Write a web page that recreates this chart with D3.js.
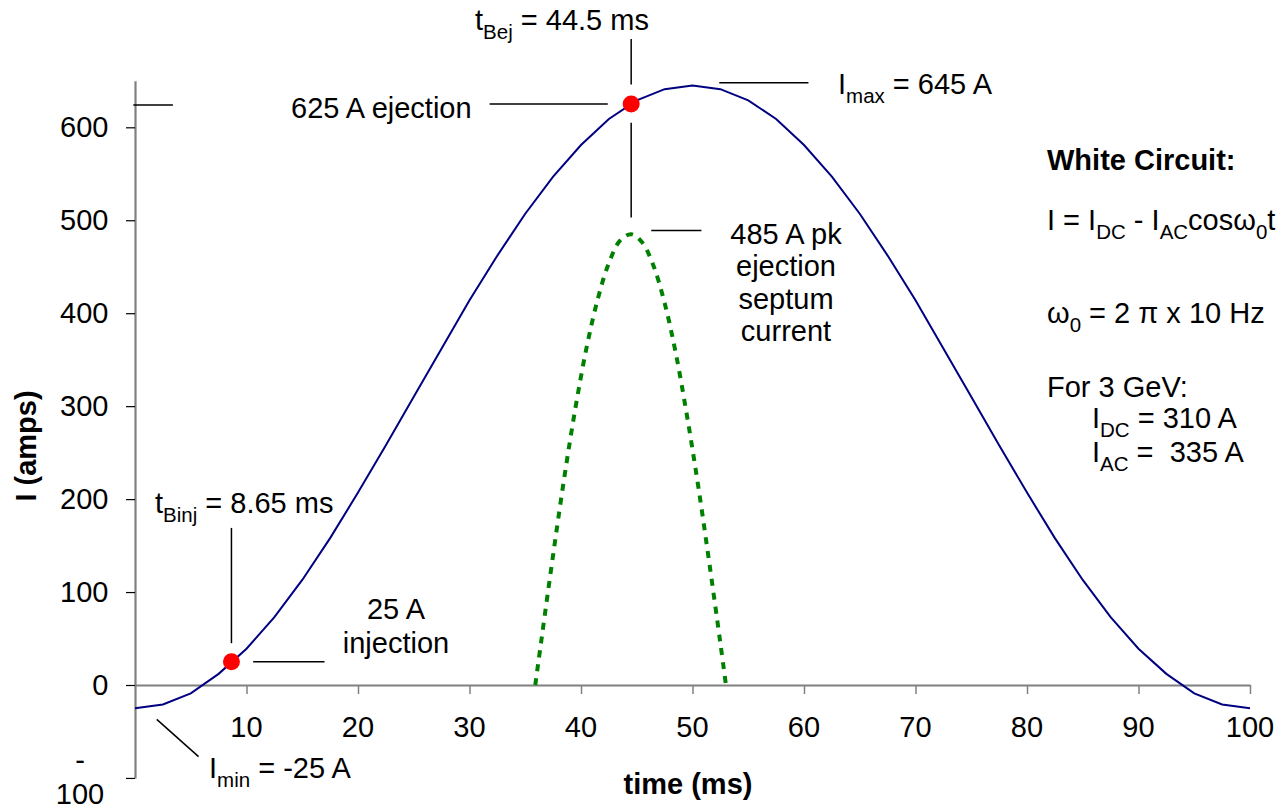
<!DOCTYPE html>
<html>
<head>
<meta charset="utf-8">
<script src="https://cdn.jsdelivr.net/npm/d3@7"></script>
<style>
  html, body { margin: 0; padding: 0; background: #fff; }
  svg { display: block; }
  text { font-family: "Liberation Sans", Arial, Helvetica, sans-serif; fill: #000; white-space: pre; }
</style>
</head>
<body>
<svg id="chart" width="1280" height="809"></svg>
<script>
// ---------- data ----------
const timeMs = [0, 2.5, 5, 7.5, 10, 12.5, 15, 17.5, 20, 22.5, 25, 27.5, 30, 32.5, 35, 37.5, 40, 42.5, 45, 47.5, 50,
                52.5, 55, 57.5, 60, 62.5, 65, 67.5, 70, 72.5, 75, 77.5, 80, 82.5, 85, 87.5, 90, 92.5, 95, 97.5, 100];
const currentA = [-25, -21, -9, 12, 39, 73, 113, 158, 207, 258, 310, 362, 414, 462, 507, 547, 581, 609, 629, 641, 645,
                  641, 629, 609, 581, 547, 507, 462, 414, 362, 310, 258, 207, 158, 113, 73, 39, 12, -9, -21, -25];

const septumTime = [35.9, 36.5, 37.5, 38.5, 39.5, 40.5, 41.5, 42.5, 43.5, 44.5, 45.5, 46.5, 47.5, 48.5, 49.5, 50.5, 51.5, 52.5, 53.0];
const septumA    = [0, 53, 140, 223, 298, 363, 415, 454, 478, 485, 476, 451, 411, 357, 290, 215, 132, 45, 0];

const markerTime = [8.65, 44.5];
const markerA    = [25, 625];

const xTickValues = [10, 20, 30, 40, 50, 60, 70, 80, 90, 100];
const yTickValues = [-100, 0, 100, 200, 300, 400, 500, 600];
const yTickLabels = ["-\n100", "0", "100", "200", "300", "400", "500", "600"];

// annotation leader lines in data units [t1, a1, t2, a2]
const leaderLines = [
  [-0.15, 624, 3.4, 624],      // stray line at top-left of axis
  [44.5, 695, 44.5, 646],      // t_Bej vertical above
  [44.5, 605, 44.5, 503],      // t_Bej vertical below
  [31.8, 625, 42.4, 625],      // 625 A ejection
  [52.4, 648, 60.4, 648],      // I max
  [46.3, 489, 50.8, 489],      // 485 A pk
  [8.65, 169, 8.65, 45],       // t_Binj vertical
  [10.6, 25, 17.0, 25],        // 25 A injection
  [1.95, -37, 5.7, -77]        // I min diagonal
];

// ---------- scales ----------
const svg = d3.select("#chart");
const x = d3.scaleLinear().domain([0, 100]).range([135, 1250]);
const y = d3.scaleLinear().domain([-100, 650]).range([777.95, 80.83]);

const FS = 29, SUB = 20.5, SUBDY = 9;
const FONT = '"Liberation Sans", Arial, Helvetica, sans-serif';

// ---------- axes ----------
const yAxis = d3.axisLeft(y).tickValues(yTickValues).tickSize(9).tickSizeOuter(0).tickFormat("");
const gy = svg.append("g").attr("transform", `translate(${x(0)},0)`).call(yAxis);
gy.select(".domain").attr("stroke", "#808080").attr("stroke-width", 2.2);
gy.selectAll(".tick line").attr("stroke", "#000").attr("stroke-width", 1.2);

const xAxis = d3.axisBottom(x).tickValues(xTickValues).tickSize(9).tickSizeOuter(0).tickFormat("");
const gx = svg.append("g").attr("transform", `translate(0,${y(0)})`).call(xAxis);
gx.select(".domain").attr("stroke", "#808080").attr("stroke-width", 1.8);
gx.selectAll(".tick line").attr("stroke", "#808080").attr("stroke-width", 1.5);

// x tick labels
svg.append("g").selectAll("text").data(xTickValues).join("text")
  .attr("x", d => x(d)).attr("y", y(0) + 52)
  .attr("text-anchor", "middle").attr("font-size", FS).attr("font-family", FONT)
  .text(d => d);

// y tick labels
yTickValues.forEach((v, i) => {
  const lab = yTickLabels[i];
  if (lab.includes("\n")) {
    const parts = lab.split("\n");
    const t = svg.append("text").attr("text-anchor", "middle").attr("font-size", FS).attr("font-family", FONT);
    t.append("tspan").attr("x", 80).attr("y", y(v) - 8).text(parts[0]);
    t.append("tspan").attr("x", 80).attr("y", y(v) + 26).text(parts[1]);
  } else {
    svg.append("text").attr("x", 108.5).attr("y", y(v) + 10)
      .attr("text-anchor", "end").attr("font-size", FS).attr("font-family", FONT).text(lab);
  }
});

// axis titles
svg.append("text").attr("x", 688).attr("y", 794).attr("text-anchor", "middle")
  .attr("font-size", FS).attr("font-weight", "bold").attr("font-family", FONT).text("time (ms)");
svg.append("text").attr("transform", "translate(36,446) rotate(-90)").attr("text-anchor", "middle")
  .attr("font-size", FS).attr("font-weight", "bold").attr("font-family", FONT).text("I (amps)");

// ---------- series ----------
const line = d3.line().x(d => x(d[0])).y(d => y(d[1])).curve(d3.curveLinear);

svg.append("path")
  .datum(timeMs.map((t, i) => [t, currentA[i]]))
  .attr("d", line).attr("fill", "none").attr("stroke", "#000080").attr("stroke-width", 2);

svg.append("path")
  .datum(septumTime.map((t, i) => [t, septumA[i]]))
  .attr("d", d3.line().x(d => x(d[0])).y(d => y(d[1])).curve(d3.curveCatmullRom))
  .attr("fill", "none").attr("stroke", "#008000").attr("stroke-width", 4)
  .attr("stroke-dasharray", "7,7");

// leader lines
svg.append("g").selectAll("line").data(leaderLines).join("line")
  .attr("x1", d => x(d[0])).attr("y1", d => y(d[1]))
  .attr("x2", d => x(d[2])).attr("y2", d => y(d[3]))
  .attr("stroke", "#000").attr("stroke-width", 1.5);

// markers
svg.append("g").selectAll("circle").data(markerTime).join("circle")
  .attr("cx", d => x(d)).attr("cy", (d, i) => y(markerA[i])).attr("r", 8.5)
  .attr("fill", "#ff0000");

// ---------- rich text helper ----------
function rich(xp, yp, parts, opts = {}) {
  const t = svg.append("text").attr("x", xp).attr("y", yp)
    .attr("font-size", FS).attr("font-family", FONT)
    .attr("text-anchor", opts.anchor || "start");
  if (opts.bold) t.attr("font-weight", "bold");
  let shifted = false;
  parts.forEach(p => {
    const isSub = Array.isArray(p);
    const s = isSub ? p[0] : p;
    const ts = t.append("tspan").text(s);
    if (isSub && !shifted) { ts.attr("dy", SUBDY).attr("font-size", SUB); shifted = true; }
    else if (isSub) { ts.attr("font-size", SUB); }
    else if (!isSub && shifted) { ts.attr("dy", -SUBDY); shifted = false; }
  });
  return t;
}

rich(475, 30, ["t", ["Bej"], " = 44.5 ms"]);
rich(291, 117.5, ["625 A ejection"]);
rich(838, 93.5, ["I", ["max"], " = 645 A"]);
rich(786, 243.5, ["485 A pk"], {anchor: "middle"});
rich(786, 276, ["ejection"], {anchor: "middle"});
rich(786, 308.5, ["septum"], {anchor: "middle"});
rich(786, 341, ["current"], {anchor: "middle"});

rich(1047, 170, ["White Circuit:"], {bold: true});
rich(1047, 230, ["I = I", ["DC"], " - I", ["AC"], "cos\u03C9", ["0"], "t"]);
rich(1047, 323, ["\u03C9", ["0"], " = 2 \u03C0 x 10 Hz"]);
rich(1047, 397, ["For 3 GeV:"]);
rich(1092, 428, ["I", ["DC"], " = 310 A"]);
rich(1092, 462, ["I", ["AC"], " =  335 A"]);

rich(155, 513, ["t", ["Binj"], " = 8.65 ms"]);
rich(396, 619, ["25 A"], {anchor: "middle"});
rich(396, 653, ["injection"], {anchor: "middle"});
rich(209, 778, ["I", ["min"], " = -25 A"]);
</script>
</body>
</html>
